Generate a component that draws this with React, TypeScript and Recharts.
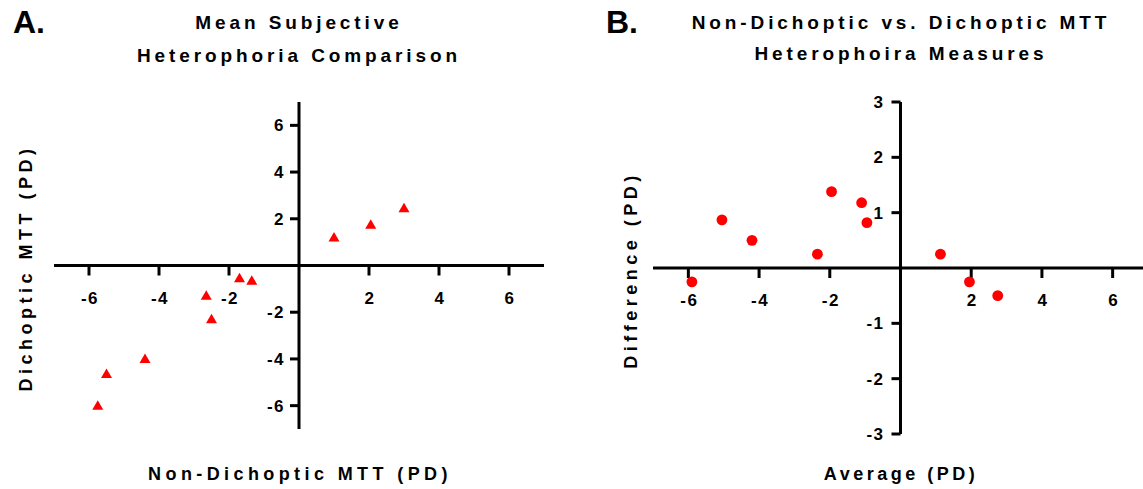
import React from 'react';
import {
  ScatterChart,
  Scatter,
  XAxis,
  YAxis,
  ReferenceLine,
  ReferenceDot,
} from 'recharts';

// Panel A: mean subjective heterophoria, non-dichoptic vs dichoptic MTT (PD)
const nonDichoptic = [-5.75, -5.5, -4.4, -2.65, -2.5, -1.7, -1.35, 1.0, 2.05, 3.0];
const dichoptic = [-6.0, -4.65, -4.0, -1.3, -2.3, -0.55, -0.65, 1.2, 1.75, 2.45];

// Panel B: Bland-Altman style, average vs difference (PD)
const averagePD = [-5.9, -5.05, -4.2, -1.95, -2.35, -1.1, -0.95, 1.13, 1.95, 2.75];
const differencePD = [-0.25, 0.87, 0.5, 1.38, 0.25, 1.18, 0.82, 0.25, -0.25, -0.5];

const xTicksA = [-6, -4, -2, 2, 4, 6];
const yTicksA = [-6, -4, -2, 2, 4, 6];
const xTicksB = [-6, -4, -2, 2, 4, 6];
const yTicksB = [-3, -2, -1, 1, 2, 3];

const FONT = '"Liberation Sans", Arial, Helvetica, sans-serif';
const RED = '#ff0000';

const dataA = nonDichoptic.map((x, i) => ({ x, y: dichoptic[i] }));
const dataB = averagePD.map((x, i) => ({ x, y: differencePD[i] }));

const tickText = {
  fontFamily: FONT,
  fontSize: 17,
  fontWeight: 700,
  fill: '#000',
  letterSpacing: 1.5,
};

// tick mark + label hanging below the x axis (axis crosses at y = 0)
const xTick = (label: number, dy: number) => (p: any) => (
  <g>
    <line x1={p.cx} y1={p.cy} x2={p.cx} y2={p.cy + 10} stroke="#000" strokeWidth={3} />
    <text x={p.cx + 1} y={p.cy + dy} textAnchor="middle" style={tickText}>
      {label}
    </text>
  </g>
);

// tick mark + label left of the y axis (axis crosses at x = 0)
const yTick = (label: number, gap: number) => (p: any) => (
  <g>
    <line x1={p.cx - 9} y1={p.cy} x2={p.cx} y2={p.cy} stroke="#000" strokeWidth={3} />
    <text x={p.cx - gap} y={p.cy} dy="0.36em" textAnchor="end" style={tickText}>
      {label}
    </text>
  </g>
);

const triangle = (p: any) => {
  const { cx, cy } = p;
  const w = 5.5;
  return (
    <polygon
      points={`${cx - w},${cy + 4} ${cx + w},${cy + 4} ${cx},${cy - 5.5}`}
      fill={RED}
    />
  );
};

const dot = (p: any) => <circle cx={p.cx} cy={p.cy} r={5.4} fill={RED} />;

const titleStyle = {
  fontFamily: FONT,
  fontSize: 19,
  fontWeight: 700,
  letterSpacing: 3.9,
  fill: '#000',
};

const labelStyle = {
  fontFamily: FONT,
  fontSize: 18,
  fontWeight: 700,
  letterSpacing: 4,
  fill: '#000',
};

const panelStyle = {
  fontFamily: FONT,
  fontSize: 32,
  fontWeight: 700,
  fill: '#000',
};

export default function App() {
  return (
    <div
      style={{
        position: 'absolute',
        left: 0,
        top: 0,
        width: 1143,
        height: 489,
        overflow: 'hidden',
        background: '#fff',
      }}
    >
      <div style={{ position: 'absolute', left: 0, top: 0 }}>
        <ScatterChart width={560} height={489} margin={{ top: 102, right: 16, bottom: 60, left: 54 }}>
          <XAxis type="number" dataKey="x" domain={[-7, 7]} hide allowDataOverflow />
          <YAxis type="number" dataKey="y" domain={[-7, 7]} hide allowDataOverflow />
          <ReferenceLine y={0} stroke="#000" strokeWidth={3} />
          <ReferenceLine x={0} stroke="#000" strokeWidth={3} />
          {xTicksA.map((t) => (
            <ReferenceDot key={'xa' + t} x={t} y={0} r={0} shape={xTick(t, 38)} />
          ))}
          {yTicksA.map((t) => (
            <ReferenceDot key={'ya' + t} x={0} y={t} r={0} shape={yTick(t, 14)} />
          ))}
          <Scatter data={dataA} fill={RED} shape={triangle} isAnimationActive={false} />
        </ScatterChart>
      </div>

      <div style={{ position: 'absolute', left: 560, top: 0 }}>
        <ScatterChart width={600} height={489} margin={{ top: 102, right: 12, bottom: 55, left: 93 }}>
          <XAxis type="number" dataKey="x" domain={[-7, 7]} hide allowDataOverflow />
          <YAxis type="number" dataKey="y" domain={[-3, 3]} hide allowDataOverflow />
          <ReferenceLine y={0} stroke="#000" strokeWidth={3} />
          <ReferenceLine x={0} stroke="#000" strokeWidth={3} />
          {xTicksB.map((t) => (
            <ReferenceDot key={'xb' + t} x={t} y={0} r={0} shape={xTick(t, 38)} />
          ))}
          {yTicksB.map((t) => (
            <ReferenceDot key={'yb' + t} x={0} y={t} r={0} shape={yTick(t, 16)} />
          ))}
          <Scatter data={dataB} fill={RED} shape={dot} isAnimationActive={false} />
        </ScatterChart>
      </div>

      <svg
        width={1143}
        height={489}
        style={{ position: 'absolute', left: 0, top: 0, pointerEvents: 'none' }}
      >
        <text x={13} y={33} style={panelStyle}>A.</text>
        <text x={606} y={33} style={panelStyle}>B.</text>

        <text x={299} y={28.5} textAnchor="middle" style={titleStyle}>Mean Subjective</text>
        <text x={299} y={61.5} textAnchor="middle" style={titleStyle}>Heterophoria Comparison</text>
        <text x={901} y={28.5} textAnchor="middle" style={titleStyle}>Non-Dichoptic vs. Dichoptic MTT</text>
        <text x={901} y={60} textAnchor="middle" style={titleStyle}>Heterophoira Measures</text>

        <text x={300} y={480} textAnchor="middle" style={{ ...labelStyle, letterSpacing: 4.4 }}>
          Non-Dichoptic MTT (PD)
        </text>
        <text x={901} y={480} textAnchor="middle" style={{ ...labelStyle, letterSpacing: 3.5 }}>
          Average (PD)
        </text>

        <text
          transform="translate(32 268) rotate(-90)"
          textAnchor="middle"
          style={{ ...labelStyle, letterSpacing: 4.5 }}
        >
          Dichoptic MTT (PD)
        </text>
        <text
          transform="translate(637 270) rotate(-90)"
          textAnchor="middle"
          style={{ ...labelStyle, letterSpacing: 4.5 }}
        >
          Difference (PD)
        </text>
      </svg>
    </div>
  );
}
